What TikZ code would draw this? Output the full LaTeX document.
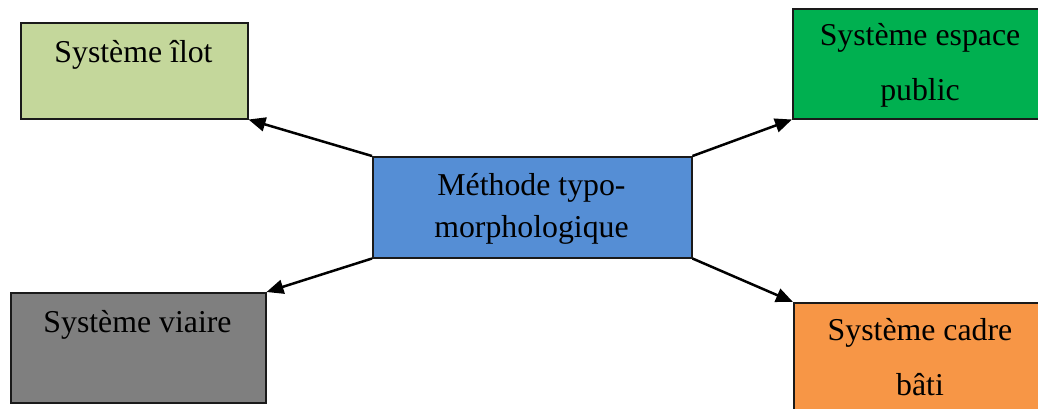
\documentclass[tikz,border=0pt]{standalone}
\usepackage{fontspec}
\setmainfont{Liberation Serif}
\usetikzlibrary{arrows.meta}
\definecolor{cIlot}{HTML}{C4D79B}
\definecolor{cEsp}{HTML}{00B050}
\definecolor{cMeth}{HTML}{558ED5}
\definecolor{cVia}{HTML}{7F7F7F}
\definecolor{cCad}{HTML}{F79646}
\definecolor{cLine}{HTML}{1A1A1A}
\begin{document}
\begin{tikzpicture}[x=1pt,y=-1pt,
  box/.style={draw=cLine,line width=1.5pt,rectangle,inner sep=0pt,anchor=north west},
  lbl/.style={anchor=base,inner sep=0pt,font=\fontsize{31.8}{42}\selectfont},
  arr/.style={draw=black,line width=2.5pt,-{Triangle[length=17pt,width=14pt]}}]
\clip (0,0) rectangle (1038,408);
\fill[white] (0,0) rectangle (1038,408);
% boxes
\node[box,fill=cIlot,minimum width=227pt,minimum height=96pt] (ilot) at (20,22) {};
\node[box,fill=cEsp,minimum width=256pt,minimum height=110pt] (esp) at (792,8) {};
\node[box,fill=cMeth,minimum width=319pt,minimum height=101pt] (meth) at (372,156) {};
\node[box,fill=cVia,minimum width=255pt,minimum height=110pt] (via) at (10,292) {};
\node[box,fill=cCad,minimum width=255pt,minimum height=110pt] (cad) at (793,302) {};
% labels
\node[lbl] (tIlot) at (133.5,62) {Système îlot};
\node[lbl] (tEspA) at (920,45) {Système espace};
\node[lbl] (tEspB) at (920,100) {public};
\node[lbl] (tMethA) at (531.5,195) {Méthode typo-};
\node[lbl] (tMethB) at (531.5,237) {morphologique};
\node[lbl] (tVia) at (137.5,332) {Système viaire};
\node[lbl] (tCadA) at (920,340) {Système cadre};
\node[lbl] (tCadB) at (920,395) {bâti};
% arrows
\draw[arr] (meth.north west) -- (ilot.south east);
\draw[arr] (meth.north east) -- (esp.south west);
\draw[arr] (meth.south west) -- (via.north east);
\draw[arr] (meth.south east) -- (cad.north west);
\end{tikzpicture}
\end{document}
